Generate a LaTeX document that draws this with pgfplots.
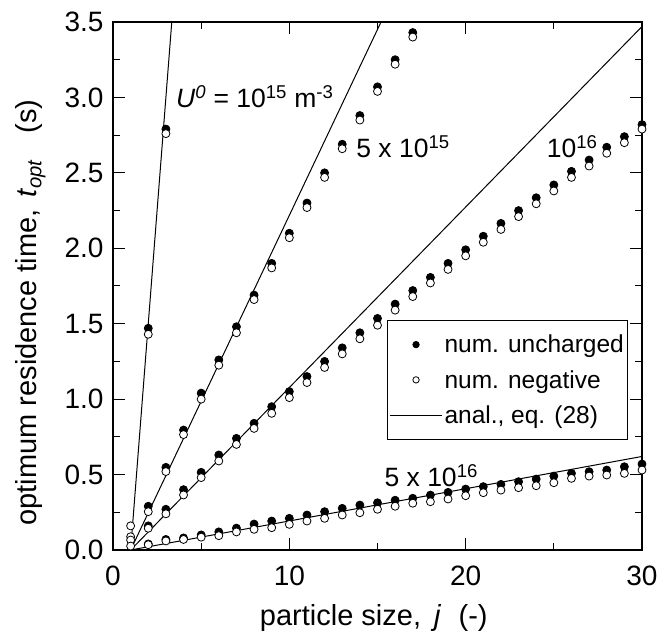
\documentclass[border=0pt]{standalone}
\usepackage{fontspec}
\setmainfont{Liberation Sans}
\usepackage{pgfplots}
\pgfplotsset{compat=1.18}
\pgfplotsset{
  markleg/.style={legend image code/.code={\draw[##1,mark size=3.2pt] plot coordinates {(26pt,0pt)};}},
  lineleg/.style={legend image code/.code={\draw[##1] (0pt,0pt) -- (52pt,0pt);}},
}
\begin{document}
\begin{tikzpicture}
\begin{axis}[
  scale only axis, width=529pt, height=528pt,
  xmin=0, xmax=30, ymin=0, ymax=3.5,
  xtick={0,10,20,30}, minor xtick={5,15,25},
  ytick={0,0.5,1,1.5,2,2.5,3,3.5},
  minor ytick={0.25,0.75,1.25,1.75,2.25,2.75,3.25},
  xtick pos=both, ytick pos=both, tick align=inside,
  major tick length=12pt, minor tick length=7pt,
  every tick/.style={black, line width=1pt},
  axis line style={line width=1.4pt},
  /pgf/number format/assume math mode=true,
  yticklabel style={/pgf/number format/fixed, /pgf/number format/fixed zerofill, /pgf/number format/precision=1, xshift=-6pt},
  tick label style={font=\fontsize{28}{33}\selectfont},
  xticklabel style={yshift=-12pt},
  label style={font=\fontsize{29}{34}\selectfont},
  xlabel={particle size,\hspace{0.45em}\textit{j}\hspace{0.6em}(-)},
  ylabel={optimum residence time,\hspace{0.4em}\textit{t}\textsubscript{\textit{opt}}\hspace{0.9em}(s)},
  xlabel style={at={(axis description cs:0.493,-0.1439)}, anchor=base},
  ylabel style={at={(axis description cs:-0.144,0.45)}, anchor=base},
  legend style={at={(axis description cs:0.518,0.4356)}, anchor=north west,
    draw=black, line width=1pt, font=\fontsize{24.5}{29}\selectfont,
    inner xsep=2pt, inner ysep=12.5pt, row sep=12pt, cells={anchor=west}},
  legend cell align=left,
  filled/.style={only marks, mark=*, mark size=4pt, mark options={fill=black, draw=black, line width=0.8pt}},
  open/.style={only marks, mark=*, mark size=4pt, mark options={fill=white, draw=black, line width=0.8pt}},
  anal/.style={black, line width=1pt, mark=none},
]
% filled: num. uncharged
\addplot[filled, markleg] coordinates {(2,1.47)(3,2.79)};
\addlegendentry{num. uncharged}
\addplot[filled, forget plot] coordinates {(2,0.29)(3,0.548)(4,0.795)(5,1.04)(6,1.26)(7,1.48)(8,1.69)(9,1.90)(10,2.10)(11,2.30)(12,2.50)(13,2.69)(14,2.88)(15,3.07)(16,3.25)(17,3.43)};
\addplot[filled, forget plot] coordinates {(2,0.16)(3,0.27)(4,0.40)(5,0.515)(6,0.63)(7,0.74)(8,0.84)(9,0.95)(10,1.05)(11,1.15)(12,1.25)(13,1.34)(14,1.44)(15,1.535)(16,1.63)(17,1.72)(18,1.807)(19,1.90)(20,1.99)(21,2.08)(22,2.165)(23,2.25)(24,2.335)(25,2.42)(26,2.51)(27,2.585)(28,2.67)(29,2.74)(30,2.82)};
\addplot[filled, forget plot] coordinates {(2,0.04)(3,0.07)(4,0.08)(5,0.10)(6,0.12)(7,0.145)(8,0.172)(9,0.192)(10,0.21)(11,0.232)(12,0.254)(13,0.276)(14,0.298)(15,0.313)(16,0.33)(17,0.343)(18,0.364)(19,0.382)(20,0.404)(21,0.42)(22,0.435)(23,0.453)(24,0.47)(25,0.49)(26,0.508)(27,0.519)(28,0.53)(29,0.552)(30,0.57)};
% open: num. negative
\addplot[open, markleg] coordinates {(1,0.16)(2,1.43)(3,2.76)};
\addlegendentry{num. negative}
\addplot[open, forget plot] coordinates {(1,0.088)(2,0.254)(3,0.52)(4,0.765)(5,1.00)(6,1.225)(7,1.44)(8,1.66)(9,1.87)(10,2.07)(11,2.27)(12,2.47)(13,2.66)(14,2.85)(15,3.04)(16,3.22)(17,3.40)};
\addplot[open, forget plot] coordinates {(1,0.066)(2,0.144)(3,0.24)(4,0.365)(5,0.48)(6,0.59)(7,0.70)(8,0.806)(9,0.906)(10,1.01)(11,1.11)(12,1.21)(13,1.30)(14,1.40)(15,1.49)(16,1.59)(17,1.68)(18,1.77)(19,1.86)(20,1.95)(21,2.04)(22,2.125)(23,2.21)(24,2.295)(25,2.38)(26,2.47)(27,2.545)(28,2.63)(29,2.70)(30,2.79)};
\addplot[open, forget plot] coordinates {(1,0.026)(2,0.035)(3,0.06)(4,0.07)(5,0.085)(6,0.095)(7,0.12)(8,0.137)(9,0.148)(10,0.17)(11,0.192)(12,0.21)(13,0.232)(14,0.247)(15,0.27)(16,0.29)(17,0.31)(18,0.32)(19,0.338)(20,0.36)(21,0.38)(22,0.397)(23,0.413)(24,0.426)(25,0.446)(26,0.475)(27,0.49)(28,0.497)(29,0.508)(30,0.53)};
% analytical lines
\addplot[anal, lineleg] coordinates {(1,0)(3.333,3.5)};
\addlegendentry{anal., eq. (28)}
\addplot[anal, forget plot] coordinates {(1,0)(15.2,3.5)};
\addplot[anal, forget plot] coordinates {(1,0)(30,3.47)};
\addplot[anal, forget plot] coordinates {(1,0)(30,0.62)};
% labels
\node[anchor=base west, font=\fontsize{26.5}{31}\selectfont] at (axis cs:3.38,2.936) {\textit{U}\textsuperscript{\textit{0}} = 10\textsuperscript{15} m\textsuperscript{-3}};
\node[anchor=base west, font=\fontsize{26.5}{31}\selectfont] at (axis cs:13.6,2.60) {5 x 10\textsuperscript{15}};
\node[anchor=base west, font=\fontsize{26.5}{31}\selectfont] at (axis cs:24.4,2.60) {10\textsuperscript{16}};
\node[anchor=base west, font=\fontsize{26.5}{31}\selectfont] at (axis cs:15.2,0.418) {5 x 10\textsuperscript{16}};
\end{axis}
\pgfresetboundingbox
\useasboundingbox ([shift={(-113pt,-83pt)}]current axis.south west) rectangle ([shift={(16pt,22pt)}]current axis.north east);
\end{tikzpicture}
\end{document}
